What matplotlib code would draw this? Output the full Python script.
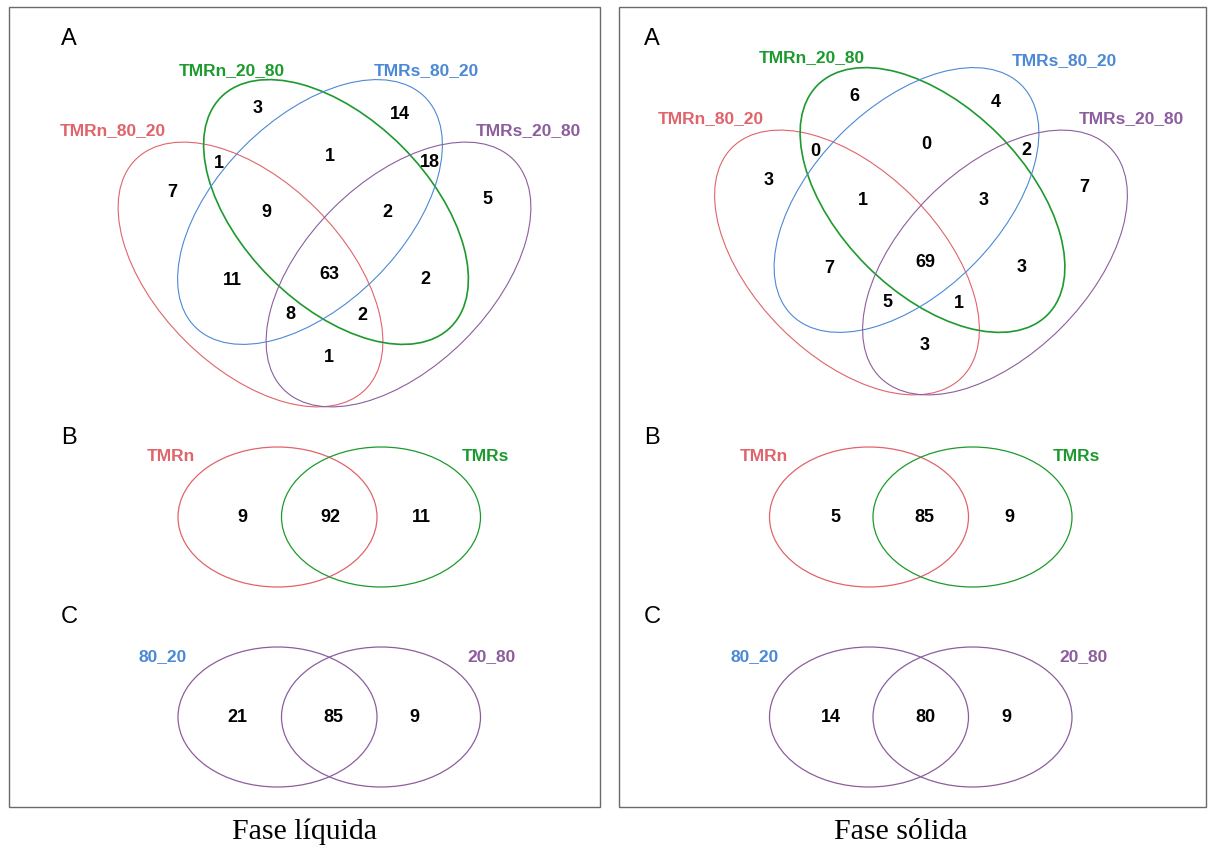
import matplotlib
matplotlib.use("Agg")
import matplotlib.pyplot as plt
from matplotlib.patches import Ellipse, Rectangle

# ---- data -------------------------------------------------------------
# Region keys for the four-set diagrams: R = TMRn_80_20, G = TMRn_20_80,
# B = TMRs_80_20, P = TMRs_20_80
quad_regions = ["R", "G", "B", "P", "RG", "GB", "BP", "RGB", "GBP",
                "RB", "RGBP", "GP", "RBP", "RGP", "RP"]
quad_liquid = [7, 3, 14, 5, 1, 1, 18, 9, 2, 11, 63, 2, 8, 2, 1]
quad_solid = [3, 6, 4, 7, 0, 0, 2, 1, 3, 7, 69, 3, 5, 1, 3]
quad_sets = ["TMRn_80_20", "TMRn_20_80", "TMRs_80_20", "TMRs_20_80"]

# Two-set diagrams: left only, both, right only
diet_sets = ["TMRn", "TMRs"]
diet_liquid = [9, 92, 11]
diet_solid = [5, 85, 9]
ratio_sets = ["80_20", "20_80"]
ratio_liquid = [21, 85, 9]
ratio_solid = [14, 80, 9]

panel_titles = ["Fase líquida", "Fase sólida"]

# ---- styling ----------------------------------------------------------
RED = "#E0646B"
GREEN = "#1D9A2E"
BLUE = "#4B89D6"
PURPLE = "#8C5E9E"
set_colors = [RED, GREEN, BLUE, PURPLE]
set_lw = [0.8, 1.2, 0.8, 0.8]

W, H = 1208, 849
fig = plt.figure(figsize=(W / 100, H / 100), dpi=100)
ax = fig.add_axes([0, 0, 1, 1])
ax.set_xlim(0, W)
ax.set_ylim(H, 0)
ax.axis("off")

SANS = ["Liberation Sans", "DejaVu Sans"]
SERIF = ["Liberation Serif", "DejaVu Serif"]
NUM_FS = 13
LAB_FS = 12.5

# ellipse geometry of the four-set layout (relative to the diagram centre)
ell_offsets = [(-74, 0), (11.5, -62.5), (-14.5, -62.5), (74, 0)]
ell_angles = [45, 45, -45, -45]
ELL_W, ELL_H = 325, 186

# count positions relative to the diagram centre
count_offsets = {
    "R": (-152, -82.5), "G": (-67, -166), "B": (75, -160), "P": (163, -75.5),
    "RG": (-106, -111), "GB": (5, -118), "BP": (105, -112),
    "RGB": (-58, -62.5), "GBP": (63, -62.5), "RB": (-92, 6), "RGBP": (4.5, 0),
    "GP": (101, 5.5), "RBP": (-34, 40), "RGP": (38, 40.5), "RP": (4, 83),
}

panels = [
    dict(box=(8.5, 7, 600, 807), letter_x=69, centre=(324.5, 274.5),
         quad=quad_liquid,
         quad_label_pos=[(113, 131), (232, 71), (426, 71), (528, 131)],
         diet=diet_liquid, ratio=ratio_liquid,
         two_centres=(277.5, 381),
         diet_count_x=[242, 330, 421], ratio_count_x=[237, 333, 414],
         diet_label_x=(171, 485), ratio_label_x=(163, 492),
         title_x=305),
    dict(box=(618.5, 7, 1206, 807), letter_x=652, centre=(921, 262.5),
         quad=quad_solid,
         quad_label_pos=[(711, 119), (812, 58), (1064, 61), (1131, 119)],
         diet=diet_solid, ratio=ratio_solid,
         two_centres=(869, 972.5),
         diet_count_x=[835, 924, 1009], ratio_count_x=[831, 925, 1006],
         diet_label_x=(764, 1076), ratio_label_x=(755, 1084),
         title_x=901),
]

for title, p in zip(panel_titles, panels):
    x0, y0, x1, y1 = p["box"]
    ax.add_patch(Rectangle((x0, y0), x1 - x0, y1 - y0, fill=False,
                           edgecolor="#6a6a6a", lw=1.0))

    # panel letters
    for letter, ly in zip("ABC", (39, 438, 617)):
        ax.text(p["letter_x"], ly, letter, fontsize=17, family=SANS,
                ha="center", va="center", color="black")

    # --- A: four-set diagram ---
    cx, cy = p["centre"]
    for (dx, dy), ang, col, lw in zip(ell_offsets, ell_angles, set_colors, set_lw):
        ax.add_patch(Ellipse((cx + dx, cy + dy), ELL_W, ELL_H, angle=ang,
                             fill=False, edgecolor=col, lw=lw))
    for name, (lx, ly), col in zip(quad_sets, p["quad_label_pos"], set_colors):
        ax.text(lx, ly, name, fontsize=LAB_FS, family=SANS, weight="bold",
                color=col, ha="center", va="center")
    for key, val in zip(quad_regions, p["quad"]):
        dx, dy = count_offsets[key]
        ax.text(cx + dx, cy + dy, str(val), fontsize=NUM_FS, family=SANS,
                weight="bold", ha="center", va="center")

    # --- B and C: two-set diagrams ---
    lcx, rcx = p["two_centres"]
    rows = [
        (517, p["diet"], diet_sets, (RED, GREEN), (RED, GREEN),
         p["diet_count_x"], p["diet_label_x"], 456),
        (717, p["ratio"], ratio_sets, (PURPLE, PURPLE), (BLUE, PURPLE),
         p["ratio_count_x"], p["ratio_label_x"], 657),
    ]
    for ycen, vals, names, ecols, lcols, count_x, label_x, label_y in rows:
        for ex, col in zip((lcx, rcx), ecols):
            ax.add_patch(Ellipse((ex, ycen), 199, 140, fill=False,
                                 edgecolor=col, lw=0.9))
        for x, v in zip(count_x, vals):
            ax.text(x, ycen, str(v), fontsize=NUM_FS, family=SANS,
                    weight="bold", ha="center", va="center")
        for x, name, col in zip(label_x, names, lcols):
            ax.text(x, label_y, name, fontsize=LAB_FS, family=SANS,
                    weight="bold", color=col, ha="center", va="center")

    ax.text(p["title_x"], 832, title, fontsize=21.5,
            family=SERIF, ha="center", va="center", color="black")

fig.savefig("out.png", dpi=100)
